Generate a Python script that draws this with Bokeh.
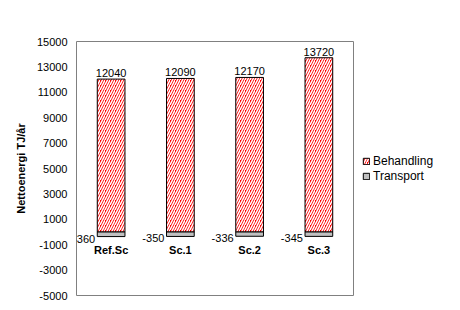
from bokeh.plotting import figure
from bokeh.models import (FactorRange, Range1d, FixedTicker, Legend, LegendItem,
                          ColumnDataSource, PrintfTickFormatter)
from bokeh.core.properties import value
from bokeh.embed import file_html
from bokeh.resources import INLINE

categories = ["Ref.Sc", "Sc.1", "Sc.2", "Sc.3"]
behandling = [12040, 12090, 12170, 13720]
transport = [-360, -350, -336, -345]
y_ticks = [-5000, -3000, -1000, 1000, 3000, 5000, 7000, 9000, 11000, 13000, 15000]

FONT = "Liberation Sans"

p = figure(frame_width=277, frame_height=254, x_range=FactorRange(*categories, range_padding=0),
           y_range=Range1d(-5000, 15000), output_backend="svg", toolbar_location=None,
           min_border_left=76, min_border_right=107, min_border_top=41, min_border_bottom=15)
p.xaxis.visible = False
p.xgrid.visible = False
p.ygrid.visible = False
p.outline_line_color = "#808080"
p.outline_line_width = 1
p.background_fill_color = "white"
p.border_fill_color = "white"

ya = p.yaxis[0]
ya.ticker = FixedTicker(ticks=y_ticks)
ya.formatter = PrintfTickFormatter(format="%d")
ya.axis_line_color = None
ya.major_tick_line_color = None
ya.minor_tick_line_color = None
ya.major_label_standoff = 3
ya.major_label_text_font = FONT
ya.major_label_text_font_size = "11px"
ya.major_label_text_color = "black"
ya.axis_label = "Nettoenergi TJ/år"
ya.axis_label_text_font = FONT
ya.axis_label_text_font_size = "11px"
ya.axis_label_text_font_style = "bold"
ya.axis_label_text_color = "black"
ya.axis_label_standoff = 7

src = ColumnDataSource(dict(
    cat=categories,
    beh=behandling,
    tra=transport,
    zero=[0] * len(categories),
    beh_txt=[str(v) for v in behandling],
    tra_txt=[str(v) for v in transport],
))

r_beh = p.vbar(x="cat", top="beh", bottom=0, width=0.4, source=src,
               fill_color="#ff0000", line_color="black", line_width=1,
               hatch_pattern="/", hatch_color="white", hatch_scale=5, hatch_weight=1.5)
r_tra = p.vbar(x="cat", top=0, bottom="tra", width=0.4, source=src,
               fill_color="#c0c0c0", line_color="black", line_width=1)

p.text(x="cat", y="beh", text="beh_txt", source=src, text_align="center",
       text_baseline="bottom", y_offset=-2, text_font=value(FONT),
       text_font_size="11px", text_color="black")
p.text(x="cat", y="tra", text="tra_txt", source=src, text_align="right",
       text_baseline="middle", x_offset=-16, y_offset=2, text_font=value(FONT),
       text_font_size="11px", text_color="black")
p.text(x="cat", y="zero", text="cat", source=src, text_align="center",
       text_baseline="middle", y_offset=18, text_font=value(FONT),
       text_font_size="11px", text_font_style="bold", text_color="black")

legend = Legend(items=[LegendItem(label="Behandling", renderers=[r_beh]),
                       LegendItem(label="Transport", renderers=[r_tra])],
                location="center_left", border_line_color=None, background_fill_alpha=0,
                glyph_width=8, glyph_height=8, label_standoff=3, label_height=15,
                spacing=0, padding=0, margin=9,
                label_text_font=FONT, label_text_font_size="12px", label_text_color="black")
p.add_layout(legend, "right")

open("out.html", "w").write(file_html(p, INLINE))
